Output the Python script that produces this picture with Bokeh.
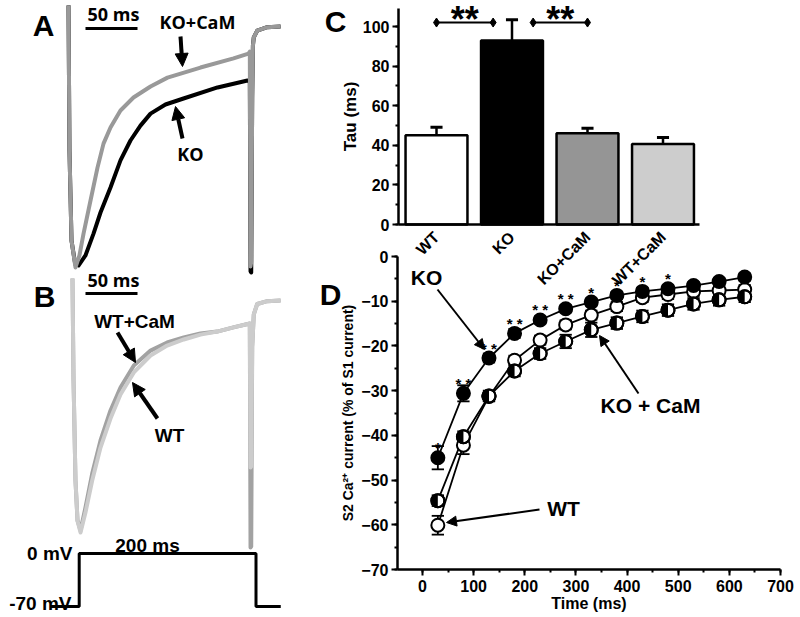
import math
from bokeh.plotting import figure
from bokeh.models import (Range1d, LinearAxis, SingleIntervalTicker, FixedTicker,
                          Arrow, NormalHead)
from bokeh.core.properties import value
from bokeh.embed import file_html
from bokeh.resources import INLINE

# ---------------- data ----------------
# Panel A: Ca2+ current traces (time in ms, current normalised to peak)
a_ko_t = [-12.1, -11.0, -8.7, -4.5, -0.8, 7.1, 16.2, 24.1, 35.4, 46.7, 58.0, 69.3, 80.7,
          97.6, 118.0, 156.5, 190.4, 193.0, 193.8, 194.6, 195.7, 196.5, 197.5, 201.4, 212.7, 227.8]
a_ko_i = [0.088, -0.517, -0.892, -0.99, -0.996, -0.954, -0.863, -0.775, -0.671, -0.558, -0.475,
          -0.413, -0.363, -0.325, -0.30, -0.254, -0.225, -0.23, -1.02, -1.025, -0.30, -0.08,
          -0.045, -0.017, -0.003, 0.0]
a_kocam_t = [-12.1, -11.0, -8.7, -4.2, 0.3, 4.9, 12.8, 20.7, 27.5, 35.4, 46.7, 61.4, 80.7,
             99.9, 137.2, 174.6, 191.5, 193.0, 193.8, 194.6, 195.7, 196.5, 197.5, 201.4, 212.7, 227.8]
a_kocam_i = [0.088, -0.517, -0.892, -1.004, -0.954, -0.863, -0.725, -0.588, -0.488, -0.421,
             -0.35, -0.296, -0.25, -0.213, -0.171, -0.133, -0.113, -0.105, -1.0, -0.98, -0.30,
             -0.08, -0.045, -0.017, -0.003, 0.0]

# Panel B: Ca2+ current traces
b_t = [-7.6, -6.4, -4.2, -1.9, 1.5, 7.1, 14.7, 24.1, 35.4, 46.7, 61.8, 80.7, 99.5, 118.3,
       137.2, 156.1, 174.5, 193.0, 193.8, 194.6, 195.7, 197.5, 201.4, 212.7, 227.8]
b_wtcam_i = [0.095, -0.345, -0.776, -0.948, -0.991, -0.892, -0.746, -0.603, -0.474, -0.375,
             -0.280, -0.216, -0.181, -0.159, -0.142, -0.134, -0.116, -0.099, -1.065, -1.06,
             -0.20, -0.06, -0.015, -0.003, 0.0]
b_wt_i = [0.095, -0.345, -0.776, -0.95, -1.0, -0.914, -0.776, -0.634, -0.509, -0.405, -0.310,
          -0.237, -0.194, -0.168, -0.147, -0.134, -0.116, -0.099, -0.72, -0.715, -0.20, -0.06,
          -0.015, -0.003, 0.0]

# Voltage protocol
v_t = [-32, 0, 0, 200, 200, 228]
v_mv = [-70, -70, 0, 0, -70, -70]

# Panel C: inactivation tau
c_groups = ["WT", "KO", "KO+CaM", "WT+CaM"]
c_pos = [1, 2, 3, 4]
c_tau = [45.1, 92.9, 46.1, 40.6]
c_err = [4.0, 10.5, 2.5, 3.4]
c_colors = ["#ffffff", "#000000", "#959595", "#cdcdcd"]

# Panel D: S2 Ca2+ current (% of S1 current)
d_time = [30, 80, 130, 180, 230, 280, 330, 380, 430, 480, 530, 580, 630]
d_ko = [-45.0, -30.6, -22.7, -17.2, -14.2, -11.7, -10.2, -8.7, -7.8, -7.2, -6.5, -5.6, -4.6]
d_ko_err = [2.6, 1.8, 1.0, 1.0, 0.8, 0.8, 0.8, 0.8, 0.8, 0.8, 0.8, 0.8, 0.8]
d_wt = [-60.1, -42.2, -31.3, -23.2, -18.7, -15.3, -13.1, -11.2, -9.2, -8.5, -7.8, -7.6, -7.4]
d_wt_err = [2.1, 2.0, 1.0, 1.0, 1.0, 1.0, 1.0, 1.0, 1.0, 1.0, 1.0, 1.0, 1.0]
d_kocam = [-54.6, -40.3, -31.2, -25.6, -21.7, -19.0, -16.4, -14.9, -13.4, -12.0, -10.6, -9.7, -9.0]
d_kocam_err = [1.2, 1.2, 1.2, 1.2, 1.2, 1.5, 1.6, 1.3, 1.3, 1.3, 1.3, 1.3, 1.2]
d_sig = ["*", "* *", "* *", "* *", "* *", "* *", "*", "*", "*", "*", "", "", ""]

# ---------------- layout helpers ----------------
W, H = 800, 617
X0, X1, Y0, Y1 = 0, W, 0, H


def hrange(p1, v1, p2, v2):
    s = (v2 - v1) / (p2 - p1)
    return Range1d(v1 + (X0 - p1) * s, v1 + (X1 - p1) * s)


def vrange(p1, v1, p2, v2):
    s = (v2 - v1) / (p2 - p1)
    return Range1d(v1 + (Y1 - p1) * s, v1 + (Y0 - p1) * s)


p = figure(width=W, height=H, output_backend="svg", toolbar_location=None,
           x_range=hrange(78.7, 0, 255.5, 200), y_range=vrange(26, 0, 266, -1),
           x_axis_location=None, y_axis_location=None,
           min_border=0, min_border_left=0, min_border_right=0,
           min_border_top=0, min_border_bottom=0, outline_line_color=None)
p.grid.visible = False
p.extra_x_ranges = {
    "px": Range1d(X0, X1),
    "cx": hrange(436, 1, 662.5, 4),
    "dx": hrange(422, 0, 780, 700),
}
p.extra_y_ranges = {
    "py": Range1d(Y1, Y0),
    "by": vrange(300, 0, 532, -1),
    "vy": vrange(553, 0, 606, -70),
    "cy": vrange(224, 0, 26, 100),
    "dy": vrange(256, 0, 569, -70),
}


def put_text(txt, x, y, size, font="Liberation Sans", align="center", baseline="middle",
             angle=0.0, xr="px", yr="py"):
    p.text(x=[x], y=[y], text=[txt], x_range_name=xr, y_range_name=yr,
           text_font=value(font), text_font_style="bold", text_font_size=f"{size}px",
           text_align=align, text_baseline=baseline, angle=angle, text_color="black")


def put_arrow(x0, y0, x1, y1, width, head):
    p.add_layout(Arrow(end=NormalHead(size=head, fill_color="black", line_color="black",
                                      line_width=1),
                       x_start=x0, y_start=y0, x_end=x1, y_end=y1,
                       line_width=width, line_color="black",
                       x_range_name="px", y_range_name="py"))


# ---------------- Panel A ----------------
p.line(a_ko_t, a_ko_i, line_color="black", line_width=4, line_join="round")
p.line(a_kocam_t, a_kocam_i, line_color="#999999", line_width=4, line_join="round")
put_text("A", 43, 25, 30)
p.segment(x0=[85], y0=[28], x1=[137], y1=[28], x_range_name="px", y_range_name="py",
          line_color="black", line_width=3)
put_text("50 ms", 113, 13, 18, font="Open Sans")
put_text("KO+CaM", 197, 21, 18, font="Open Sans")
put_arrow(180, 36, 182, 66, 4, 13)
put_text("KO", 190, 153, 18, font="Open Sans")
put_arrow(182, 138, 175, 106, 4, 13)

# ---------------- Panel B ----------------
p.line(b_t, b_wtcam_i, y_range_name="by", line_color="#a2a2a2", line_width=4, line_join="round")
p.line(b_t, b_wt_i, y_range_name="by", line_color="#cccccc", line_width=4, line_join="round")
put_text("B", 44, 296, 30)
p.segment(x0=[85], y0=[293], x1=[137], y1=[293], x_range_name="px", y_range_name="py",
          line_color="black", line_width=3)
put_text("50 ms", 113, 279, 18, font="Open Sans")
put_text("WT+CaM", 134, 321, 19)
put_arrow(117, 332, 135, 362, 4, 13)
put_text("WT", 169, 435, 19)
put_arrow(157, 418, 132, 382, 4, 13)

# Voltage protocol
p.line(v_t, v_mv, y_range_name="vy", line_color="black", line_width=3)
put_text("0 mV", 72, 553, 19, align="right")
put_text("-70 mV", 71, 603, 19, align="right")
put_text("200 ms", 147, 545, 19)


# ---------------- axes helper ----------------
def style_axis(ax, lw=2.5):
    ax.axis_line_width = lw
    ax.axis_line_color = "black"
    ax.major_tick_line_width = 2
    ax.minor_tick_line_width = 2
    ax.major_tick_in = 0
    ax.major_tick_out = 6
    ax.minor_tick_in = 0
    ax.minor_tick_out = 3
    ax.major_label_text_font = "Liberation Sans"
    ax.major_label_text_font_style = "bold"
    ax.major_label_text_font_size = "16px"
    ax.major_label_text_color = "black"
    ax.axis_label_text_font = "Liberation Sans"
    ax.axis_label_text_font_style = "bold"
    ax.axis_label_text_font_size = "16px"
    ax.axis_label_text_color = "black"


# ---------------- Panel C ----------------
cx_left = 1 + (398 - 436) / 75.5
cx_right = 1 + (699 - 436) / 75.5
c_ax_y = LinearAxis(x_range_name="cx", y_range_name="cy", fixed_location=cx_left,
                    bounds=(0, 109), ticker=SingleIntervalTicker(interval=20, num_minor_ticks=2),
                    axis_label="Tau (ms)")
style_axis(c_ax_y)
c_ax_y.axis_label_text_font_size = "17px"
c_ax_y.major_label_standoff = 3
c_ax_y.axis_label_standoff = 0
p.add_layout(c_ax_y, "left")
c_ax_x = LinearAxis(x_range_name="cx", y_range_name="cy", fixed_location=0,
                    bounds=(cx_left, cx_right), ticker=FixedTicker(ticks=c_pos))
style_axis(c_ax_x)
c_ax_x.major_tick_line_color = None
c_ax_x.minor_tick_line_color = None
c_ax_x.major_label_overrides = {k: g for k, g in zip(c_pos, c_groups)}
c_ax_x.major_label_orientation = math.pi / 4
c_ax_x.major_label_standoff = 4
p.add_layout(c_ax_x, "below")

p.segment(x0=c_pos, y0=c_tau, x1=c_pos, y1=[t + e for t, e in zip(c_tau, c_err)],
          x_range_name="cx", y_range_name="cy", line_color="black", line_width=2.5)
p.segment(x0=[x - 0.08 for x in c_pos], y0=[t + e for t, e in zip(c_tau, c_err)],
          x1=[x + 0.08 for x in c_pos], y1=[t + e for t, e in zip(c_tau, c_err)],
          x_range_name="cx", y_range_name="cy", line_color="black", line_width=3)
p.vbar(x=c_pos, top=c_tau, bottom=0, width=0.82, fill_color=c_colors, line_color="black",
       line_width=2.5, x_range_name="cx", y_range_name="cy")
# significance brackets
for xa, xb in [(1.0, 1.75), (2.28, 3.0)]:
    p.segment(x0=[xa], y0=[102], x1=[xb], y1=[102], x_range_name="cx", y_range_name="cy",
              line_color="black", line_width=2)
    p.scatter(x=[xa, xb], y=[102, 102], marker="diamond", size=9, fill_color="black",
              line_color="black", x_range_name="cx", y_range_name="cy")
    put_text("**", (xa + xb) / 2, 103.5, 36, baseline="alphabetic", xr="cx", yr="cy")
put_text("C", 335, 21, 30)

# ---------------- Panel D ----------------
dx_left = (397 - 422) / (358 / 700)
d_ax_y = LinearAxis(x_range_name="dx", y_range_name="dy", fixed_location=dx_left,
                    bounds=(-70, 0), ticker=SingleIntervalTicker(interval=10, num_minor_ticks=2),
                    axis_label="S2 Ca\u00b2\u207a current (% of S1 current)")
style_axis(d_ax_y)
d_ax_y.axis_label_text_font_size = "14px"
d_ax_y.major_label_standoff = 3
d_ax_y.axis_label_standoff = 2
p.add_layout(d_ax_y, "left")
d_ax_x = LinearAxis(x_range_name="dx", y_range_name="dy", fixed_location=-70,
                    bounds=(dx_left, 700), ticker=SingleIntervalTicker(interval=100, num_minor_ticks=2),
                    axis_label="Time (ms)")
style_axis(d_ax_x)
d_ax_x.major_label_standoff = 4
d_ax_x.axis_label_standoff = 0
p.add_layout(d_ax_x, "below")

D = dict(x_range_name="dx", y_range_name="dy")
for ys in (d_wt, d_kocam, d_ko):
    p.line(d_time, ys, line_color="black", line_width=1.8, **D)
for ys, es in ((d_wt, d_wt_err), (d_kocam, d_kocam_err), (d_ko, d_ko_err)):
    lo = [y - e for y, e in zip(ys, es)]
    hi = [y + e for y, e in zip(ys, es)]
    p.segment(x0=d_time, y0=lo, x1=d_time, y1=hi, line_color="black", line_width=1.8, **D)
    p.segment(x0=[t - 12 for t in d_time], y0=lo, x1=[t + 12 for t in d_time], y1=lo,
              line_color="black", line_width=1.8, **D)
    p.segment(x0=[t - 12 for t in d_time], y0=hi, x1=[t + 12 for t in d_time], y1=hi,
              line_color="black", line_width=1.8, **D)
# WT open circles
p.scatter(d_time, d_wt, marker="circle", size=13, fill_color="white", line_color="black",
          line_width=2, **D)
# KO+CaM half-filled circles
p.scatter(d_time, d_kocam, marker="circle", size=13, fill_color="white", line_color="black",
          line_width=2, **D)
p.wedge(x=d_time, y=d_kocam, radius=6.5, radius_units="screen", start_angle=math.pi / 2,
        end_angle=3 * math.pi / 2, fill_color="black", line_color=None, **D)
p.scatter(d_time, d_kocam, marker="circle", size=13, fill_color=None, line_color="black",
          line_width=2, **D)
# KO filled circles
p.scatter(d_time, d_ko, marker="circle", size=13, fill_color="black", line_color="black",
          line_width=2, **D)
p.text(x=d_time, y=d_ko, text=d_sig, y_offset=-10, text_font=value("Liberation Sans"),
       text_font_style="bold", text_font_size="15px", text_align="center",
       text_baseline="alphabetic", text_color="black", **D)

put_text("D", 330, 294, 30)
put_text("KO", 426, 277, 21)
put_arrow(437, 289, 484, 349, 2, 10)
put_text("KO + CaM", 650, 405, 21)
put_arrow(638, 393, 599, 335, 2, 10)
put_text("WT", 563, 508, 21)
put_arrow(539, 509, 446, 522, 2, 10)

open("out.html", "w").write(file_html(p, INLINE))
